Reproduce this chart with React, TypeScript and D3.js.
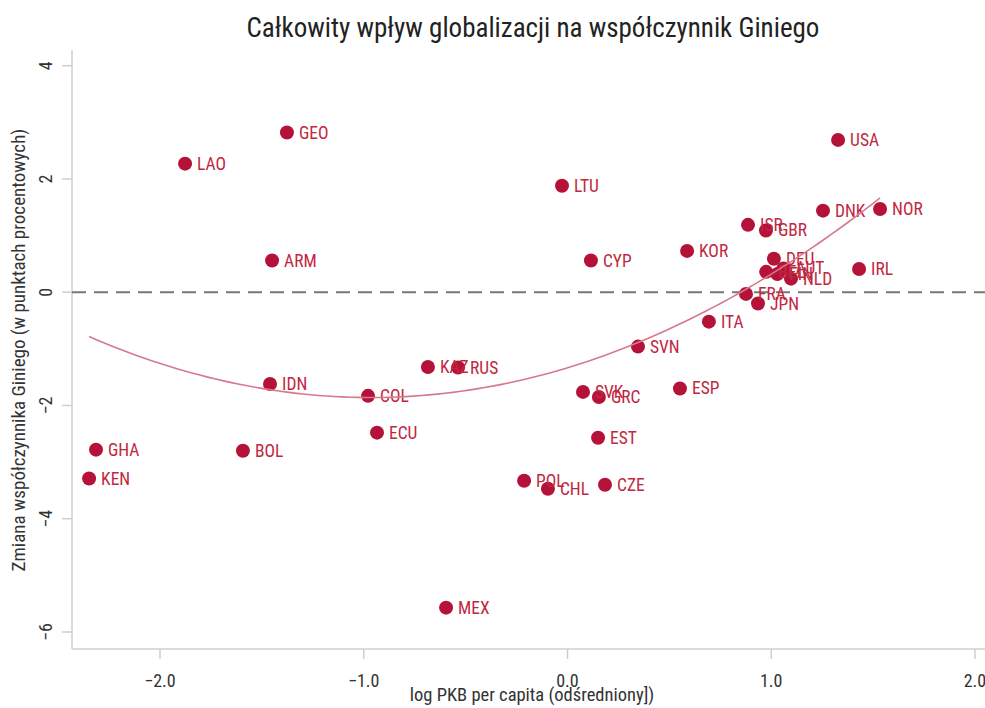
import React, { useEffect, useRef } from 'react'
import * as d3 from 'd3'

// country codes, log GDP per capita (demeaned), change in Gini (pp)
const countries = ['LAO', 'GEO', 'LTU', 'USA', 'DNK', 'NOR', 'ISR', 'GBR', 'KOR', 'ARM', 'CYP', 'IRL', 'DEU', 'BEL', 'AUT', 'FIN', 'NLD', 'FRA', 'JPN', 'ITA', 'SVN', 'KAZ', 'RUS', 'IDN', 'COL', 'SVK', 'GRC', 'ESP', 'ECU', 'EST', 'GHA', 'BOL', 'KEN', 'POL', 'CHL', 'CZE', 'MEX']
const logGdp = [-1.877, -1.377, -0.027, 1.328, 1.254, 1.534, 0.886, 0.974, 0.587, -1.45, 0.115, 1.431, 1.013, 0.975, 1.06, 1.03, 1.097, 0.876, 0.935, 0.694, 0.346, -0.685, -0.537, -1.46, -0.979, 0.076, 0.154, 0.552, -0.935, 0.15, -2.314, -1.593, -2.348, -0.213, -0.096, 0.184, -0.596]
const giniChange = [2.27, 2.82, 1.88, 2.69, 1.44, 1.47, 1.19, 1.09, 0.73, 0.56, 0.56, 0.41, 0.59, 0.36, 0.42, 0.32, 0.24, -0.03, -0.2, -0.52, -0.96, -1.32, -1.33, -1.62, -1.83, -1.76, -1.85, -1.7, -2.48, -2.57, -2.78, -2.8, -3.29, -3.33, -3.47, -3.4, -5.57]

const xTicks = [-2, -1, 0, 1, 2]
const yTicks = [4, 2, 0, -2, -4, -6]

const W = 985
const H = 708
const font = "'Roboto Condensed', 'Liberation Sans Narrow', 'DejaVu Sans Condensed', Roboto, sans-serif"
const red = '#b5123a'

// quadratic OLS fit y = a + b x + c x^2
function quadFit(xs: number[], ys: number[]) {
  const n = xs.length
  let s = [0, 0, 0, 0, 0], t = [0, 0, 0]
  for (let i = 0; i < n; i++) {
    const x = xs[i], y = ys[i]
    for (let k = 0; k < 5; k++) s[k] += Math.pow(x, k)
    for (let k = 0; k < 3; k++) t[k] += y * Math.pow(x, k)
  }
  const M = [[s[0], s[1], s[2], t[0]], [s[1], s[2], s[3], t[1]], [s[2], s[3], s[4], t[2]]]
  for (let i = 0; i < 3; i++) {
    for (let j = i + 1; j < 3; j++) {
      const f = M[j][i] / M[i][i]
      for (let k = i; k < 4; k++) M[j][k] -= f * M[i][k]
    }
  }
  const r = [0, 0, 0]
  for (let i = 2; i >= 0; i--) {
    let v = M[i][3]
    for (let k = i + 1; k < 3; k++) v -= M[i][k] * r[k]
    r[i] = v / M[i][i]
  }
  return r
}

export default function App() {
  const ref = useRef<SVGSVGElement | null>(null)

  useEffect(() => {
    const svg = d3.select(ref.current)
    svg.selectAll('*').remove()

    const left = 72, right = 985, top = 50, bottom = 649
    const x = d3.scaleLinear().domain([-2, 2]).range([160, 975])
    const y = d3.scaleLinear().domain([4, -6]).range([65.7, 632])

    svg.append('rect').attr('width', W).attr('height', H).attr('fill', '#fff')

    svg.append('text').attr('x', 533).attr('y', 37).attr('text-anchor', 'middle')
      .attr('font-family', font).attr('font-size', 27).attr('fill', '#222')
      .text('Całkowity wpływ globalizacji na współczynnik Giniego')

    // axes
    const axisCol = '#cfcfcf'
    svg.append('line').attr('x1', left).attr('x2', left).attr('y1', top).attr('y2', bottom)
      .attr('stroke', axisCol).attr('stroke-width', 1.5)
    svg.append('line').attr('x1', left).attr('x2', right).attr('y1', bottom).attr('y2', bottom)
      .attr('stroke', axisCol).attr('stroke-width', 1.5)

    const yt = svg.append('g')
    yTicks.forEach(v => {
      yt.append('line').attr('x1', left - 10).attr('x2', left).attr('y1', y(v)).attr('y2', y(v))
        .attr('stroke', axisCol).attr('stroke-width', 1.5)
      yt.append('text').attr('transform', `translate(52,${y(v)}) rotate(-90)`)
        .attr('text-anchor', 'middle').attr('font-family', font).attr('font-size', 18).attr('fill', '#333')
        .text(d3.format('d')(v))
    })
    const xt = svg.append('g')
    xTicks.forEach(v => {
      xt.append('line').attr('x1', x(v)).attr('x2', x(v)).attr('y1', bottom).attr('y2', bottom + 10)
        .attr('stroke', axisCol).attr('stroke-width', 1.5)
      xt.append('text').attr('x', x(v)).attr('y', 687)
        .attr('text-anchor', 'middle').attr('font-family', font).attr('font-size', 18).attr('fill', '#333')
        .text(d3.format('.1f')(v))
    })

    svg.append('text').attr('x', 532).attr('y', 701).attr('text-anchor', 'middle')
      .attr('font-family', font).attr('font-size', 18.5).attr('fill', '#333')
      .text('log PKB per capita (odśredniony])')
    svg.append('text').attr('transform', `translate(25,350) rotate(-90)`).attr('text-anchor', 'middle')
      .attr('font-family', font).attr('font-size', 19).attr('fill', '#333')
      .text('Zmiana współczynnika Giniego (w punktach procentowych)')

    // zero line
    svg.append('line').attr('x1', left).attr('x2', right).attr('y1', y(0)).attr('y2', y(0))
      .attr('stroke', '#777').attr('stroke-width', 2).attr('stroke-dasharray', '14,8')

    // points
    const data = countries.map((c, i) => ({ c, x: logGdp[i], y: giniChange[i] }))
    const g = svg.append('g')
    g.selectAll('circle').data(data).enter().append('circle')
      .attr('cx', d => x(d.x)).attr('cy', d => y(d.y)).attr('r', 7).attr('fill', red)
    g.selectAll('text').data(data).enter().append('text')
      .attr('x', d => x(d.x) + 12).attr('y', d => y(d.y) + 6)
      .attr('font-family', font).attr('font-size', 17.5).attr('fill', '#c0283f')
      .text(d => d.c)

    // fitted quadratic
    const [a, b, c] = quadFit(logGdp, giniChange)
    const [x0, x1] = d3.extent(logGdp) as [number, number]
    const pts = d3.range(0, 101).map(i => x0 + (x1 - x0) * i / 100)
    const line = d3.line<number>().x(v => x(v)).y(v => y(a + b * v + c * v * v))
    svg.append('path').datum(pts).attr('fill', 'none').attr('stroke', '#d8788c').attr('stroke-width', 1.6).attr('d', line)
  }, [])

  return (
    <div style={{ position: 'absolute', left: 0, top: 0 }}>
      <svg ref={ref} width={W} height={H} style={{ display: 'block' }} />
    </div>
  )
}
